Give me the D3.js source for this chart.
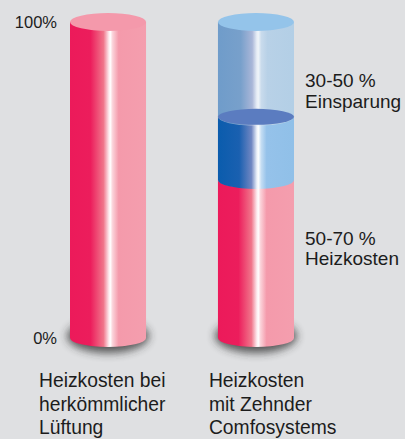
<!DOCTYPE html>
<html lang="de">
<head>
<meta charset="UTF-8">
<title>Heizkosten Vergleich</title>
<script src="https://d3js.org/d3.v7.min.js"></script>
<style>
    body { margin: 0; background: #dfe0e2; }
    svg { display: block; }
    text { font-family: "Liberation Sans", Arial, sans-serif; fill: #1c1c1c; }
</style>
</head>
<body>
<div id="chart"></div>
<script>
// Daten
const categories = ["links", "rechts"];
const categoryLabels = [
    ["Heizkosten bei", "herkömmlicher", "Lüftung"],
    ["Heizkosten", "mit Zehnder", "Comfosystems"]
];
// Segmente je Zylinder (Prozent von unten nach oben)
const leftSegments = [{ from: 0, to: 100, kind: "pink" }];
const rightSegments = [
    { from: 0, to: 50, kind: "pink" },
    { from: 50, to: 70, kind: "blue" },
    { from: 70, to: 100, kind: "glass" }
];
const tickValues = [0, 100];
const annotations = [
    { lines: ["30-50 %", "Einsparung"], value: 78.3 },
    { lines: ["50-70 %", "Heizkosten"], value: 28.4 }
];

const W = 405, H = 439;
const svg = d3.select("#chart").append("svg").attr("width", W).attr("height", H);

// Farben fuer die Zylinder (Seite als Verlauf, Deckel flach)
const palette = {
    pink: {
        stops: [[0, "#ec1a5a"], [0.27, "#ec1d5c"], [0.44, "#f0758a"], [0.51, "#fde8ec"],
                [0.53, "#ffffff"], [0.56, "#fbd3da"], [0.64, "#f49aab"], [1, "#f49eae"]],
        cap: "#f499ab"
    },
    blue: {
        stops: [[0, "#0a5cad"], [0.28, "#1a60b0"], [0.44, "#6f86c2"], [0.51, "#e8eef8"],
                [0.53, "#ffffff"], [0.57, "#c4ddf3"], [0.64, "#95c2ea"], [1, "#90c0e8"]],
        cap: "#5b7cc0"
    },
    glass: {
        stops: [[0, "#6f9cca"], [0.3, "#78a0cb"], [0.45, "#a9b6d8"], [0.51, "#e6ecf5"],
                [0.53, "#f0f4f9"], [0.57, "#c9dbec"], [0.65, "#b8d1e7"], [1, "#b3cfe6"]],
        cap: "#94c4ea"
    }
};

const defs = svg.append("defs");
Object.entries(palette).forEach(([k, p]) => {
    const g = defs.append("linearGradient").attr("id", "grad-" + k)
        .attr("x1", 0).attr("x2", 1).attr("y1", 0).attr("y2", 0);
    p.stops.forEach(s => g.append("stop").attr("offset", s[0]).attr("stop-color", s[1]));
});
defs.append("filter").attr("id", "blur")
    .attr("x", "-50%").attr("y", "-100%").attr("width", "200%").attr("height", "300%")
    .append("feGaussianBlur").attr("stdDeviation", 4);

// Skalen
const y = d3.scaleLinear().domain([0, 100]).range([338, 22]);
const x = d3.scaleBand().domain(categories).range([70, 294]).paddingInner(0.486).paddingOuter(0);
const bw = x.bandwidth();
const rx = bw / 2, ry = 9, ryMid = 8;

// Achse (nur Beschriftung 0% und 100%)
const axis = svg.append("g")
    .attr("transform", "translate(57,0)")
    .call(d3.axisLeft(y).tickValues(tickValues).tickSize(0).tickPadding(0).tickFormat(d => d + "%"));
axis.select(".domain").remove();
axis.selectAll("text")
    .attr("dy", "0.35em")
    .style("font-size", "16.5px")
    .style("font-family", "'Liberation Sans', Arial, sans-serif")
    .attr("fill", "#1c1c1c");

function sidePath(x0, top, bottom) {
    return `M${x0},${top} L${x0},${bottom} A${rx},${ry} 0 0 0 ${x0 + bw},${bottom} L${x0 + bw},${top} Z`;
}

function drawCylinder(cat, segs) {
    const x0 = x(cat);
    const cx = x0 + rx;
    const g = svg.append("g");

    // Schatten am Boden
    g.append("ellipse")
        .attr("cx", cx).attr("cy", y(0) - 2)
        .attr("rx", rx + 3).attr("ry", ry + 8)
        .attr("fill", "#2a2a2a").attr("opacity", 0.75)
        .attr("filter", "url(#blur)");

    segs.forEach((s, i) => {
        g.append("path")
            .attr("d", sidePath(x0, y(s.to), y(s.from)))
            .attr("fill", `url(#grad-${s.kind})`);
        // Glas-Segment: Deckel des darunterliegenden Segments bleibt sichtbar
        if (s.kind === "glass" && i > 0) {
            g.append("ellipse")
                .attr("cx", cx).attr("cy", y(segs[i - 1].to))
                .attr("rx", rx).attr("ry", ryMid)
                .attr("fill", palette[segs[i - 1].kind].cap);
        }
        g.append("ellipse")
            .attr("cx", cx).attr("cy", y(s.to))
            .attr("rx", rx).attr("ry", i === segs.length - 1 ? ry : ryMid)
            .attr("fill", palette[s.kind].cap);
    });
}

drawCylinder(categories[0], leftSegments);
drawCylinder(categories[1], rightSegments);

// Anmerkungen rechts
const lineH = 20.4;
annotations.forEach(a => {
    const cy = y(a.value);
    const t = svg.append("text")
        .attr("x", 305)
        .attr("y", cy - lineH / 2 + 6.8)
        .style("font-size", "19px");
    a.lines.forEach((l, i) => {
        t.append("tspan").attr("x", 305).attr("dy", i === 0 ? 0 : lineH).text(l);
    });
});

// Kategorie-Beschriftungen unten
const labelDx = [-31, -9];
categoryLabels.forEach((lines, ci) => {
    const lx = x(categories[ci]) + labelDx[ci];
    const t = svg.append("text").attr("x", lx).attr("y", 387).style("font-size", "19.3px");
    lines.forEach((l, i) => {
        t.append("tspan").attr("x", lx).attr("dy", i === 0 ? 0 : 23.5).text(l);
    });
});
</script>
</body>
</html>
